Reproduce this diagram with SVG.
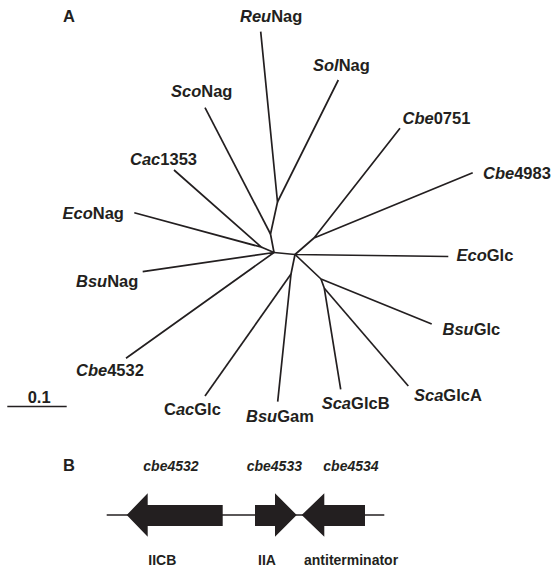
<svg xmlns="http://www.w3.org/2000/svg" width="553" height="569" viewBox="0 0 553 569">
<style>
text{font-family:"Liberation Sans",Arial,sans-serif;font-weight:bold;fill:#231f20}
.t{font-size:16.5px}
.g{font-size:14px}
.i{font-style:italic}
.e{stroke:#231f20;stroke-width:1.7;fill:none;stroke-linejoin:round;stroke-linecap:butt}
.gene{fill:#231f20;stroke:none}
</style>
<rect width="553" height="569" fill="#fff"/>
<text class="t" x="63" y="22">A</text>
<text class="t" x="63" y="471">B</text>
<g id="connectors">
<path class="e" d="M260.7,31.7 L277.5,202 L338.3,80"/>
<path class="e" d="M277.5,202 L270.5,234 L274,252.5"/>
<path class="e" d="M205,107.7 L270.5,234"/>
<path class="e" d="M174,170 L261.7,247.3 L134.3,212.7"/>
<path class="e" d="M261.7,247.3 L274,252.5"/>
<path class="e" d="M142.7,271.7 L274,252.5 L126,358.3"/>
<path class="e" d="M274,252.5 L295,254.5"/>
<path class="e" d="M400,128.3 L314,238 L472.7,172.7"/>
<path class="e" d="M314,238 L295,254.5 L448.3,256.5"/>
<path class="e" d="M295,254.5 L321,279 L431.7,324"/>
<path class="e" d="M321,279 L324.3,288.3 L340.7,389.3"/>
<path class="e" d="M324.3,288.3 L408.3,386"/>
<path class="e" d="M295,254.5 L291,274 L277.7,401.7"/>
<path class="e" d="M291,274 L205,396"/>
<path class="e" d="M7.3,406.5 L66.7,406.5" stroke-width="2"/>
<path class="e" d="M106.7,515 L384.3,515" stroke-width="2"/>
</g>
<g id="ReuNag"><text class="t" x="240" y="22"><tspan class="i">Reu</tspan>Nag</text></g>
<g id="SolNag"><text class="t" x="313" y="71"><tspan class="i">Sol</tspan>Nag</text></g>
<g id="ScoNag"><text class="t" x="171" y="97"><tspan class="i">Sco</tspan>Nag</text></g>
<g id="Cbe0751"><text class="t" x="402.5" y="123.5"><tspan class="i">Cbe</tspan>0751</text></g>
<g id="Cac1353"><text class="t" x="130" y="165"><tspan class="i">Cac</tspan>1353</text></g>
<g id="Cbe4983"><text class="t" x="483" y="178.5"><tspan class="i">Cbe</tspan>4983</text></g>
<g id="EcoNag"><text class="t" x="62.5" y="219"><tspan class="i">Eco</tspan>Nag</text></g>
<g id="EcoGlc"><text class="t" x="456.5" y="260.5"><tspan class="i">Eco</tspan>Glc</text></g>
<g id="BsuNag"><text class="t" x="76" y="287"><tspan class="i">Bsu</tspan>Nag</text></g>
<g id="BsuGlc"><text class="t" x="442.5" y="335"><tspan class="i">Bsu</tspan>Glc</text></g>
<g id="Cbe4532"><text class="t" x="76" y="376"><tspan class="i">Cbe</tspan>4532</text></g>
<g id="ScaGlcA"><text class="t" x="414" y="400.7"><tspan class="i">Sca</tspan>GlcA</text></g>
<g id="ScaGlcB"><text class="t" x="321.7" y="409"><tspan class="i">Sca</tspan>GlcB</text></g>
<g id="CacGlc"><text class="t" x="164" y="415">C<tspan class="i">ac</tspan>Glc</text></g>
<g id="BsuGam"><text class="t" x="246" y="421.7"><tspan class="i">Bsu</tspan>Gam</text></g>
<g id="scale"><text class="t" x="27.7" y="402.7">0.1</text></g>
<g id="gene-cbe4532">
<polygon class="gene" points="126.7,515 147.7,493.3 147.7,505 222.7,505 222.7,526 147.7,526 147.7,536.7"/>
<text class="g i" x="143.3" y="470.7">cbe4532</text>
<text class="g" x="148.3" y="565">IICB</text>
</g>
<g id="gene-cbe4533">
<polygon class="gene" points="296.7,515 275,493.3 275,505 255,505 255,526 275,526 275,536.7"/>
<text class="g i" x="246.7" y="470.7">cbe4533</text>
<text class="g" x="258" y="565">IIA</text>
</g>
<g id="gene-cbe4534">
<polygon class="gene" points="301.7,515 324.3,493.3 324.3,505 365,505 365,526 324.3,526 324.3,536.7"/>
<text class="g i" x="323.3" y="470.7">cbe4534</text>
<text class="g" x="304" y="565">antiterminator</text>
</g>
</svg>
